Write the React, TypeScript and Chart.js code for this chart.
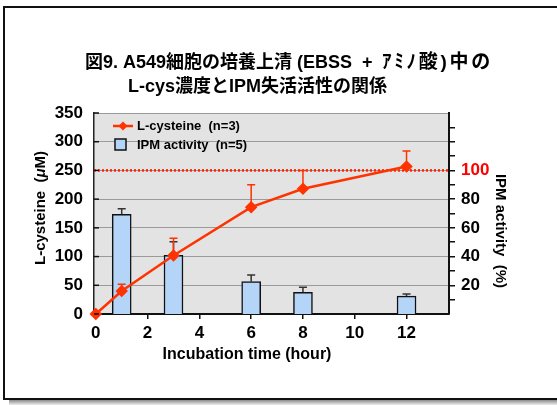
import React, { useEffect, useRef } from 'react';
import { Chart, registerables } from 'chart.js';

Chart.register(...registerables);

// ---- data ----
const lcysHours = [0, 1, 3, 6, 8, 12];
const lcysValues = [0, 40, 102, 186, 218, 257];
const lcysErrTop = [0, 52, 132, 225, 250, 284];
const ipmHours = [1, 3, 6, 8, 12];
const ipmValues = [69.4, 40.9, 22.5, 15.1, 12.5];
const ipmErrTop = [73.3, 50.4, 27.2, 18.6, 13.9];
const xTickValues = [0, 2, 4, 6, 8, 10, 12];
const yTickValues = [0, 50, 100, 150, 200, 250, 300, 350];
const y1TickValues = [10, 20, 30, 40, 50, 60, 70, 80, 90, 100, 110, 120, 130];
const y1LabelValues = [20, 40, 60, 80, 100];
const referenceLevel = 100;
const titleLine1a = '図9. A549細胞の培養上清 (EBSS';
const titleLine1b = '+';
const titleLine1c = 'ｱﾐﾉ酸)中の';
const titleLine2 = 'L-cys濃度とIPM失活活性の関係';
const lcysLabel = 'L-cysteine  (n=3)';
const ipmLabel = 'IPM activity  (n=5)';
const xTitle = 'Incubation time (hour)';
const y1Title = 'IPM activity  (%)';

const FAM = '"Liberation Sans", Arial, "Noto Sans CJK JP", sans-serif';
const RED = '#ff3300';
const BLUE = '#b4d4f8';

const decorPlugin = {
  id: 'decor',
  beforeDraw(chart: any) {
    const { ctx, chartArea: a } = chart;
    ctx.save();
    ctx.fillStyle = '#ffffff';
    ctx.fillRect(0, 0, chart.width, chart.height);
    const g = ctx.createLinearGradient(0, 399, 0, 405);
    g.addColorStop(0, '#777');
    g.addColorStop(1, '#eee');
    ctx.fillStyle = g;
    ctx.fillRect(9, 400, chart.width, 5);
    ctx.strokeStyle = '#111';
    ctx.lineWidth = 2;
    ctx.strokeRect(4, 7, 600, 392);
    ctx.fillStyle = '#e3e3e3';
    ctx.fillRect(a.left, a.top, a.right - a.left, a.bottom - a.top);
    ctx.restore();
  },
  beforeDatasetsDraw(chart: any) {
    const { ctx, chartArea: a } = chart;
    const y = chart.scales.y1.getPixelForValue(referenceLevel);
    ctx.save();
    ctx.strokeStyle = '#ff2200';
    ctx.lineWidth = 2.5;
    ctx.setLineDash([2, 2]);
    ctx.beginPath();
    ctx.moveTo(a.left, y);
    ctx.lineTo(a.right, y);
    ctx.stroke();
    ctx.restore();
  },
  afterDatasetDraw(chart: any, args: any) {
    if (args.index !== 0) return;
    const { ctx } = chart;
    const y1 = chart.scales.y1;
    ctx.save();
    ctx.strokeStyle = '#333';
    ctx.lineWidth = 1.5;
    args.meta.data.forEach((el: any, i: number) => {
      const x = el.x;
      const ye = y1.getPixelForValue(ipmErrTop[i]);
      ctx.beginPath();
      ctx.moveTo(x, el.y);
      ctx.lineTo(x, ye);
      ctx.moveTo(x - 4, ye);
      ctx.lineTo(x + 4, ye);
      ctx.stroke();
    });
    ctx.restore();
  },
  beforeDatasetDraw(chart: any, args: any) {
    if (args.index !== 1) return;
    const { ctx } = chart;
    const ys = chart.scales.y;
    ctx.save();
    ctx.strokeStyle = RED;
    ctx.lineWidth = 1.5;
    args.meta.data.forEach((el: any, i: number) => {
      if (lcysErrTop[i] <= lcysValues[i]) return;
      const x = el.x;
      const ye = ys.getPixelForValue(lcysErrTop[i]);
      ctx.beginPath();
      ctx.moveTo(x, el.y);
      ctx.lineTo(x, ye);
      ctx.moveTo(x - 4, ye);
      ctx.lineTo(x + 4, ye);
      ctx.stroke();
    });
    ctx.restore();
  },
  afterDraw(chart: any) {
    const { ctx, chartArea: a } = chart;
    ctx.save();
    const ys = chart.scales.y;
    ctx.strokeStyle = '#111';
    ctx.lineWidth = 1.5;
    yTickValues.forEach((v) => {
      const y = ys.getPixelForValue(v);
      ctx.beginPath();
      ctx.moveTo(a.left, y);
      ctx.lineTo(a.left + 5, y);
      ctx.stroke();
    });
    ctx.fillStyle = '#000';
    ctx.textBaseline = 'middle';
    ctx.textAlign = 'left';
    ctx.font = `bold 18px ${FAM}`;
    ctx.fillText(titleLine1a, 85, 63);
    ctx.fillText(titleLine1b, 362, 63);
    ctx.font = `bold 19px ${FAM}`;
    const w = ctx.measureText(titleLine1c).width;
    const n = Array.from(titleLine1c).length;
    const sp = Math.max(0, (111 - w) / n);
    (ctx as any).letterSpacing = `${sp.toFixed(2)}px`;
    ctx.fillText(titleLine1c, 382, 63);
    (ctx as any).letterSpacing = '0px';
    ctx.font = `bold 18px ${FAM}`;
    ctx.fillText(titleLine2, 128, 87);
    ctx.textAlign = 'center';
    ctx.font = `bold 16px ${FAM}`;
    ctx.fillText(xTitle, 247, 355);
    ctx.save();
    ctx.translate(41, 208);
    ctx.rotate(-Math.PI / 2);
    const parts = [
      { t: 'L-cysteine  (', f: `bold 15px ${FAM}` },
      { t: 'μ', f: `italic bold 15px ${FAM}` },
      { t: 'M)', f: `bold 15px ${FAM}` },
    ];
    let total = 0;
    parts.forEach((p) => { ctx.font = p.f; total += ctx.measureText(p.t).width; });
    let cx = -total / 2;
    ctx.textAlign = 'left';
    parts.forEach((p) => { ctx.font = p.f; ctx.fillText(p.t, cx, 0); cx += ctx.measureText(p.t).width; });
    ctx.restore();
    ctx.save();
    ctx.translate(500, 231);
    ctx.rotate(Math.PI / 2);
    ctx.textAlign = 'center';
    ctx.font = `bold 15px ${FAM}`;
    ctx.fillText(y1Title, 0, 0);
    ctx.restore();
    // legend
    ctx.strokeStyle = RED;
    ctx.lineWidth = 2.5;
    ctx.beginPath();
    ctx.moveTo(113, 126);
    ctx.lineTo(133, 126);
    ctx.stroke();
    ctx.fillStyle = RED;
    ctx.beginPath();
    ctx.moveTo(123, 121.5);
    ctx.lineTo(127.5, 126);
    ctx.lineTo(123, 130.5);
    ctx.lineTo(118.5, 126);
    ctx.closePath();
    ctx.fill();
    ctx.fillStyle = BLUE;
    ctx.fillRect(115, 139, 11, 11);
    ctx.strokeStyle = '#111';
    ctx.lineWidth = 1.5;
    ctx.strokeRect(115, 139, 11, 11);
    ctx.fillStyle = '#000';
    ctx.textAlign = 'left';
    ctx.font = `bold 13px ${FAM}`;
    ctx.fillText(lcysLabel, 137, 126);
    ctx.fillText(ipmLabel, 137, 145);
    ctx.restore();
  },
};

export default function App() {
  const ref = useRef<HTMLCanvasElement>(null);
  useEffect(() => {
    if (!ref.current) return;
    const chart = new Chart(ref.current, {
      type: 'bar',
      data: {
        datasets: [
          {
            type: 'bar',
            label: ipmLabel,
            data: ipmHours.map((h, i) => ({ x: h, y: ipmValues[i] })),
            yAxisID: 'y1',
            xAxisID: 'x',
            backgroundColor: BLUE,
            borderColor: '#111',
            borderWidth: 1.5,
            barThickness: 19,
            order: 2,
          } as any,
          {
            type: 'line',
            label: lcysLabel,
            data: lcysHours.map((h, i) => ({ x: h, y: lcysValues[i] })),
            yAxisID: 'y',
            xAxisID: 'x',
            borderColor: RED,
            backgroundColor: RED,
            borderWidth: 2.5,
            pointStyle: 'rectRot',
            pointRadius: 4.5,
            pointBackgroundColor: RED,
            pointBorderColor: RED,
            clip: false,
            order: 1,
          } as any,
        ],
      },
      options: {
        responsive: false,
        animation: false,
        layout: { padding: { left: 44, right: 58, top: 113, bottom: 51 } },
        plugins: { legend: { display: false }, tooltip: { enabled: false }, title: { display: false } },
        scales: {
          x: {
            type: 'linear',
            offset: false,
            min: -0.07,
            max: 13.64,
            afterBuildTicks: (s: any) => { s.ticks = xTickValues.map((v) => ({ value: v })); },
            afterFit: (s: any) => { s.height = 40; },
            grid: { display: true, offset: false, drawOnChartArea: false, drawTicks: true, tickLength: 5, color: '#111', lineWidth: 1.5 },
            border: { display: true, color: '#111', width: 2 },
            ticks: { autoSkip: false, color: '#000', font: { family: FAM, size: 17, weight: 'bold' }, padding: 4, maxRotation: 0 },
          },
          y: {
            position: 'left',
            min: 0,
            max: 350,
            afterBuildTicks: (s: any) => { s.ticks = yTickValues.map((v) => ({ value: v })); },
            afterFit: (s: any) => { s.width = 50; },
            grid: { color: '#9a9a9a', lineWidth: 1, drawTicks: false },
            border: { display: true, color: '#222', width: 1.5 },
            ticks: { autoSkip: false, color: '#000', font: { family: FAM, size: 17, weight: 'bold' }, padding: 11 },
          },
          y1: {
            position: 'right',
            min: 0,
            max: 140,
            afterBuildTicks: (s: any) => { s.ticks = y1TickValues.map((v) => ({ value: v })); },
            afterFit: (s: any) => { s.width = 50; },
            grid: { drawOnChartArea: false, drawTicks: true, tickLength: 6, color: '#111', lineWidth: 1.5 },
            border: { display: true, color: '#111', width: 2 },
            ticks: {
              autoSkip: false,
              callback: (v: any) => (y1LabelValues.includes(Number(v)) ? String(v) : ''),
              color: (c: any) => (c.tick && c.tick.value === referenceLevel ? '#ff0000' : '#000'),
              font: { family: FAM, size: 17, weight: 'bold' },
              padding: 6,
            },
          },
        },
      } as any,
      plugins: [decorPlugin],
    });
    return () => chart.destroy();
  }, []);
  return (
    <div style={{ position: 'absolute', left: 0, top: 0, width: 557, height: 405 }}>
      <canvas ref={ref} width={557} height={405} style={{ display: 'block' }} />
    </div>
  );
}
